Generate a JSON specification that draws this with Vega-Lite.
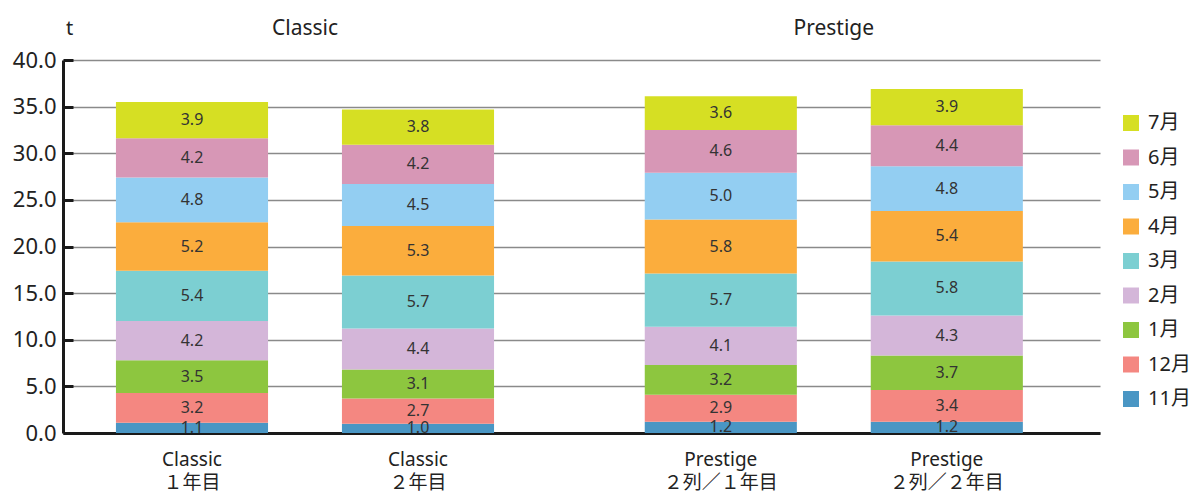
{
  "$schema": "https://vega.github.io/schema/vega-lite/v6.json",
  "padding": {"left": 12, "top": 17, "right": 5, "bottom": 5},
  "width": 1037,
  "height": 373,
  "config": {
    "font": "'Noto Sans', 'Noto Sans CJK JP', sans-serif",
    "view": {"stroke": null},
    "background": "white"
  },
  "data": {
    "values": [
      {"group": "Classic", "year": "１年目", "label": "Classic|１年目", "month": "11月", "rank": 1, "value": 1.1},
      {"group": "Classic", "year": "１年目", "label": "Classic|１年目", "month": "12月", "rank": 2, "value": 3.2},
      {"group": "Classic", "year": "１年目", "label": "Classic|１年目", "month": "1月", "rank": 3, "value": 3.5},
      {"group": "Classic", "year": "１年目", "label": "Classic|１年目", "month": "2月", "rank": 4, "value": 4.2},
      {"group": "Classic", "year": "１年目", "label": "Classic|１年目", "month": "3月", "rank": 5, "value": 5.4},
      {"group": "Classic", "year": "１年目", "label": "Classic|１年目", "month": "4月", "rank": 6, "value": 5.2},
      {"group": "Classic", "year": "１年目", "label": "Classic|１年目", "month": "5月", "rank": 7, "value": 4.8},
      {"group": "Classic", "year": "１年目", "label": "Classic|１年目", "month": "6月", "rank": 8, "value": 4.2},
      {"group": "Classic", "year": "１年目", "label": "Classic|１年目", "month": "7月", "rank": 9, "value": 3.9},
      {"group": "Classic", "year": "２年目", "label": "Classic|２年目", "month": "11月", "rank": 1, "value": 1.0},
      {"group": "Classic", "year": "２年目", "label": "Classic|２年目", "month": "12月", "rank": 2, "value": 2.7},
      {"group": "Classic", "year": "２年目", "label": "Classic|２年目", "month": "1月", "rank": 3, "value": 3.1},
      {"group": "Classic", "year": "２年目", "label": "Classic|２年目", "month": "2月", "rank": 4, "value": 4.4},
      {"group": "Classic", "year": "２年目", "label": "Classic|２年目", "month": "3月", "rank": 5, "value": 5.7},
      {"group": "Classic", "year": "２年目", "label": "Classic|２年目", "month": "4月", "rank": 6, "value": 5.3},
      {"group": "Classic", "year": "２年目", "label": "Classic|２年目", "month": "5月", "rank": 7, "value": 4.5},
      {"group": "Classic", "year": "２年目", "label": "Classic|２年目", "month": "6月", "rank": 8, "value": 4.2},
      {"group": "Classic", "year": "２年目", "label": "Classic|２年目", "month": "7月", "rank": 9, "value": 3.8},
      {"group": "Prestige", "year": "１年目", "label": "Prestige|２列／１年目", "month": "11月", "rank": 1, "value": 1.2},
      {"group": "Prestige", "year": "１年目", "label": "Prestige|２列／１年目", "month": "12月", "rank": 2, "value": 2.9},
      {"group": "Prestige", "year": "１年目", "label": "Prestige|２列／１年目", "month": "1月", "rank": 3, "value": 3.2},
      {"group": "Prestige", "year": "１年目", "label": "Prestige|２列／１年目", "month": "2月", "rank": 4, "value": 4.1},
      {"group": "Prestige", "year": "１年目", "label": "Prestige|２列／１年目", "month": "3月", "rank": 5, "value": 5.7},
      {"group": "Prestige", "year": "１年目", "label": "Prestige|２列／１年目", "month": "4月", "rank": 6, "value": 5.8},
      {"group": "Prestige", "year": "１年目", "label": "Prestige|２列／１年目", "month": "5月", "rank": 7, "value": 5.0},
      {"group": "Prestige", "year": "１年目", "label": "Prestige|２列／１年目", "month": "6月", "rank": 8, "value": 4.6},
      {"group": "Prestige", "year": "１年目", "label": "Prestige|２列／１年目", "month": "7月", "rank": 9, "value": 3.6},
      {"group": "Prestige", "year": "２年目", "label": "Prestige|２列／２年目", "month": "11月", "rank": 1, "value": 1.2},
      {"group": "Prestige", "year": "２年目", "label": "Prestige|２列／２年目", "month": "12月", "rank": 2, "value": 3.4},
      {"group": "Prestige", "year": "２年目", "label": "Prestige|２列／２年目", "month": "1月", "rank": 3, "value": 3.7},
      {"group": "Prestige", "year": "２年目", "label": "Prestige|２列／２年目", "month": "2月", "rank": 4, "value": 4.3},
      {"group": "Prestige", "year": "２年目", "label": "Prestige|２列／２年目", "month": "3月", "rank": 5, "value": 5.8},
      {"group": "Prestige", "year": "２年目", "label": "Prestige|２列／２年目", "month": "4月", "rank": 6, "value": 5.4},
      {"group": "Prestige", "year": "２年目", "label": "Prestige|２列／２年目", "month": "5月", "rank": 7, "value": 4.8},
      {"group": "Prestige", "year": "２年目", "label": "Prestige|２列／２年目", "month": "6月", "rank": 8, "value": 4.4},
      {"group": "Prestige", "year": "２年目", "label": "Prestige|２列／２年目", "month": "7月", "rank": 9, "value": 3.9}
    ]
  },
  "encoding": {
    "x": {
      "field": "group",
      "type": "nominal",
      "sort": ["Classic", "Prestige"],
      "title": null,
      "scale": {"paddingInner": 0.285, "paddingOuter": 0.123, "align": 0.407}
    },
    "xOffset": {
      "field": "year",
      "type": "nominal",
      "sort": ["１年目", "２年目"],
      "scale": {"paddingInner": 0.327, "paddingOuter": 0}
    }
  },
  "resolve": {"axis": {"x": "independent"}},
  "layer": [
    {
      "mark": {"type": "bar"},
      "encoding": {
        "x": {
          "field": "group",
          "type": "nominal",
          "sort": ["Classic", "Prestige"],
          "title": null,
          "axis": {
            "orient": "bottom",
            "labels": false,
            "ticks": false,
            "grid": false,
            "domainColor": "#1a1a1a",
            "domainWidth": 3
          }
        },
        "y": {
          "field": "value",
          "type": "quantitative",
          "stack": "zero",
          "scale": {"domain": [0, 40], "nice": false},
          "axis": {
            "values": [0, 5, 10, 15, 20, 25, 30, 35, 40],
            "format": ".1f",
            "labelFontSize": 22,
            "labelColor": "#222222",
            "labelPadding": 17,
            "domainColor": "#1a1a1a",
            "domainWidth": 3,
            "tickColor": "#1a1a1a",
            "tickWidth": 3,
            "tickSize": -10,
            "gridColor": "#8a8a8a",
            "gridWidth": 1.5,
            "title": "t",
            "titleAngle": 0,
            "titleFontSize": 20,
            "titleFontWeight": "normal",
            "titleColor": "#222222",
            "titleAlign": "center",
            "titleBaseline": "middle",
            "titleX": 6,
            "titleY": -32
          }
        },
        "color": {
          "field": "month",
          "type": "nominal",
          "scale": {
            "domain": ["7月", "6月", "5月", "4月", "3月", "2月", "1月", "12月", "11月"],
            "range": ["#d6df23", "#d797b6", "#93cef2", "#fbad3d", "#7ccfd2", "#d4b6d9", "#8dc63f", "#f48781", "#4a96c4"]
          },
          "legend": {
            "title": null,
            "orient": "none",
            "legendX": 1058,
            "legendY": 53,
            "symbolType": "square",
            "symbolSize": 256,
            "symbolStrokeWidth": 0,
            "symbolOpacity": 1,
            "labelFontSize": 20,
            "labelColor": "#222222",
            "labelOffset": 7,
            "rowPadding": 14.5,
            "labelExpr": "length(datum.label) == 2 ? '\u2007' + datum.label : datum.label"
          }
        },
        "order": {"field": "rank", "type": "quantitative"}
      }
    },
    {
      "transform": [
        {"stack": "value", "groupby": ["group", "year"], "sort": [{"field": "rank", "order": "ascending"}], "as": ["lo", "hi"]},
        {"calculate": "(datum.lo + datum.hi) / 2", "as": "mid"}
      ],
      "mark": {"type": "text", "fontSize": 16, "color": "#333333", "baseline": "middle"},
      "encoding": {
        "x": {"field": "group", "type": "nominal", "sort": ["Classic", "Prestige"], "axis": null},
        "y": {"field": "mid", "type": "quantitative", "title": "t"},
        "text": {"field": "value", "type": "quantitative", "format": ".1f"}
      }
    },
    {
      "transform": [{"filter": "datum.rank == 1"}],
      "mark": {"type": "text", "fontSize": 19, "color": "#222222", "baseline": "top", "lineBreak": "|", "lineHeight": 23, "dy": 18},
      "encoding": {
        "x": {
          "field": "group",
          "type": "nominal",
          "sort": ["Classic", "Prestige"],
          "title": null,
          "axis": {
            "orient": "top",
            "labelFontSize": 21,
            "labelColor": "#222222",
            "labelPadding": 22,
            "labelAngle": 0,
            "ticks": false,
            "domain": false,
            "grid": false
          }
        },
        "y": {"datum": 0, "type": "quantitative", "title": "t"},
        "text": {"field": "label", "type": "nominal"}
      }
    }
  ]
}
